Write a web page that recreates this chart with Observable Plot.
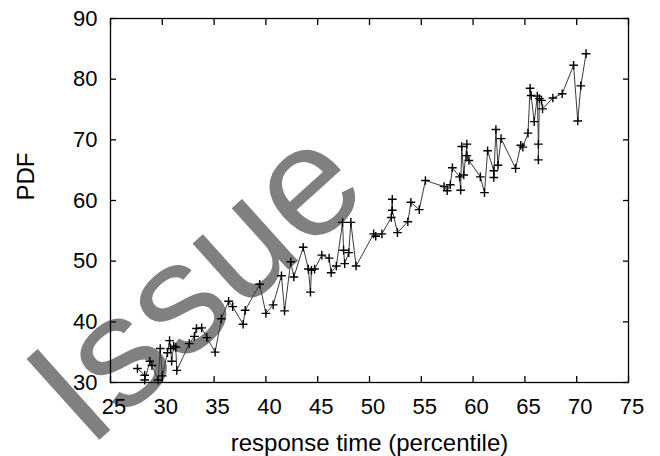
<!DOCTYPE html>
<html>
<head>
<meta charset="utf-8">
<script src="https://cdn.jsdelivr.net/npm/d3@7"></script>
<script src="https://cdn.jsdelivr.net/npm/@observablehq/plot@0.6"></script>
<style>
  html, body { margin: 0; padding: 0; background: white; }
</style>
</head>
<body>
<div id="chart"></div>
<script>
// response time percentile (x) and PDF (y)
const xValues = [27.6, 28.3, 28.3, 28.8, 29.0, 29.6, 29.8, 30.0, 30.5, 30.7, 30.8, 30.9, 31.1, 31.3, 31.4,
  32.6, 33.1, 33.3, 33.8, 34.3, 35.1, 35.7, 36.4, 36.8, 37.8, 38.0, 39.4, 40.0, 40.7, 41.5, 41.8,
  42.4, 42.7, 43.6, 44.1, 44.3, 44.4, 44.7, 45.4, 46.1, 46.3, 46.8, 47.4, 47.5, 47.6, 48.0, 48.2,
  48.7, 50.4, 50.6, 51.2, 52.1, 52.2, 52.2, 52.7, 53.7, 54.0, 54.8, 55.4, 57.2, 57.5, 57.8, 58.0,
  58.7, 58.8, 58.9, 59.1, 59.4, 59.4, 59.6, 60.7, 61.1, 61.4, 62.0, 62.0, 62.2, 62.4, 62.7, 64.1,
  64.6, 64.8, 65.3, 65.5, 65.6, 65.9, 66.2, 66.3, 66.3, 66.4, 66.6, 66.7, 67.7, 68.6, 69.7, 70.1,
  70.4, 70.9];
const yValues = [32.3, 31.2, 30.4, 33.5, 32.8, 30.4, 35.6, 31.1, 34.9, 36.9, 35.6, 33.5, 36.0, 35.8, 32.0,
  36.4, 37.6, 38.9, 39.0, 37.4, 35.0, 40.5, 43.4, 42.5, 39.6, 41.9, 46.2, 41.4, 42.8, 47.6, 41.8,
  49.9, 47.4, 52.3, 48.7, 44.9, 48.5, 48.7, 51.0, 50.5, 48.1, 49.2, 56.4, 51.8, 49.6, 51.4, 56.4,
  49.2, 54.5, 54.1, 54.5, 57.2, 60.2, 58.4, 54.7, 56.5, 59.7, 58.5, 63.3, 62.3, 61.6, 62.6, 65.4,
  63.9, 61.7, 68.9, 64.2, 69.3, 67.4, 66.6, 63.9, 61.3, 68.2, 64.9, 63.8, 71.7, 65.8, 70.2, 65.3,
  69.1, 68.8, 71.1, 78.5, 77.3, 73.0, 77.2, 69.3, 66.7, 76.8, 76.5, 75.1, 76.9, 77.6, 82.3, 73.1,
  78.9, 84.2];
const xTicks = [25, 30, 35, 40, 45, 50, 55, 60, 65, 70, 75];
const yTicks = [30, 40, 50, 60, 70, 80, 90];
const xTitle = "response time (percentile)";
const yTitle = "PDF";
const watermark = "Issue";

const data = xValues.map((x, i) => ({x, y: yValues[i]}));
const font = "'Liberation Sans', Arial, Helvetica, sans-serif";

const chart = Plot.plot({
  width: 660,
  height: 456,
  marginLeft: 110,
  marginRight: 32,
  marginTop: 18,
  marginBottom: 74,
  x: {domain: [25, 75]},
  y: {domain: [30, 90]},
  style: {fontFamily: font, fontSize: "22px", color: "black", background: "transparent", overflow: "visible"},
  marks: [
    Plot.text([watermark], {frameAnchor: "bottom-left", dx: -22, dy: 67, rotate: -42,
      textAnchor: "start", lineAnchor: "bottom", fontSize: 158, fontFamily: font, fill: "#808080"}),
    Plot.frame({stroke: "black", strokeWidth: 1.3}),
    Plot.axisX({ticks: xTicks, tickSize: 0, tickPadding: 16, dx: 3.5, fontSize: 22, label: null, tickFormat: d => String(d)}),
    Plot.axisX({ticks: xTicks, anchor: "bottom", tickSize: -6, strokeWidth: 1.3, tickFormat: () => "", label: null}),
    Plot.axisX({ticks: xTicks, anchor: "top", tickSize: -6, strokeWidth: 1.3, tickFormat: () => "", label: null}),
    Plot.axisY({ticks: yTicks, anchor: "left", tickSize: 0, tickPadding: 13, fontSize: 22, label: null, tickFormat: d => String(d)}),
    Plot.axisY({ticks: yTicks, anchor: "left", tickSize: -6, strokeWidth: 1.3, tickFormat: () => "", label: null}),
    Plot.axisY({ticks: yTicks, anchor: "right", tickSize: -6, strokeWidth: 1.3, tickFormat: () => "", label: null}),
    Plot.line(data, {x: "x", y: "y", stroke: "#3a3a3a", strokeWidth: 1}),
    Plot.dot(data, {x: "x", y: "y", symbol: "plus", r: 2.9, stroke: "black", strokeWidth: 1.4}),
    Plot.text([xTitle], {frameAnchor: "bottom", dy: 68, lineAnchor: "bottom", fontSize: 24, fontFamily: font, fill: "black"}),
    Plot.text([yTitle], {frameAnchor: "left", dx: -84.4, rotate: -90, fontSize: 24, fontFamily: font, fill: "black"})
  ]
});
d3.select(chart).selectAll("text")
  .filter(function() { return this.textContent === watermark; })
  .style("letter-spacing", "1px");
document.getElementById("chart").appendChild(chart);
</script>
</body>
</html>
